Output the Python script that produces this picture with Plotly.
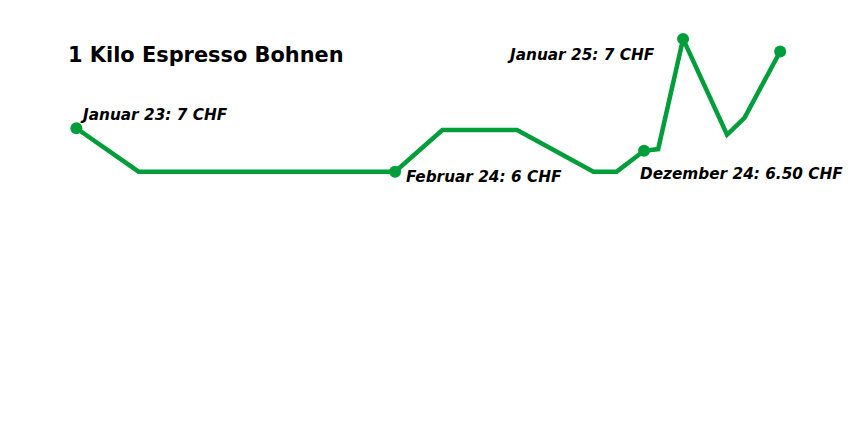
import plotly.graph_objects as go

# Data
dates = ["2023-01-01", "2023-03-17", "2024-01-20", "2024-03-17", "2024-06-15",
         "2024-09-15", "2024-10-13", "2024-11-15", "2024-12-02", "2025-01-01",
         "2025-02-23", "2025-03-16", "2025-04-28"]
prices = [7.0, 6.0, 6.0, 6.96, 6.96, 6.0, 6.0, 6.48, 6.52, 9.06, 6.85, 7.24, 8.77]

marker_idx = [0, 2, 7, 9, 12]
labels = {0: "Januar 23: 7 CHF", 2: "Februar 24: 6 CHF",
          7: "Dezember 24: 6.50 CHF", 9: "Januar 25: 7 CHF"}
title_text = "1 Kilo Espresso Bohnen"

GREEN = "#009E3A"

fig = go.Figure()
fig.add_trace(go.Scatter(x=dates, y=prices, mode="lines",
                         line=dict(color=GREEN, width=4.5), hoverinfo="skip",
                         showlegend=False))
fig.add_trace(go.Scatter(x=[dates[i] for i in marker_idx],
                         y=[prices[i] for i in marker_idx], mode="markers",
                         marker=dict(color=GREEN, size=12), showlegend=False))

label_style = {
    0: dict(xanchor="left", xshift=2, yshift=13),
    2: dict(xanchor="left", xshift=9, yshift=-5),
    7: dict(xanchor="left", xshift=-6, yshift=-23),
    9: dict(xanchor="right", xshift=-26, yshift=-16),
}
for i, txt in labels.items():
    fig.add_annotation(x=dates[i], y=prices[i], text=f"<i>{txt}</i>",
                       showarrow=False, yanchor="middle",
                       font=dict(family="DejaVu Sans", size=15.3, color="black", weight="bold"),
                       **label_style[i])

fig.add_annotation(xref="paper", yref="paper", x=66 / 864, y=1 - 55 / 432,
                   text=title_text, showarrow=False,
                   xanchor="left", yanchor="middle",
                   font=dict(family="DejaVu Sans", size=20.9, color="black", weight="bold"))

fig.update_layout(
    width=864, height=432,
    margin=dict(l=0, r=0, t=0, b=0),
    paper_bgcolor="white", plot_bgcolor="white",
    xaxis=dict(visible=False, range=["2022-10-01", "2025-08-07"]),
    yaxis=dict(visible=False, range=[0, 9.956]),
)

fig.write_html("out.html")
